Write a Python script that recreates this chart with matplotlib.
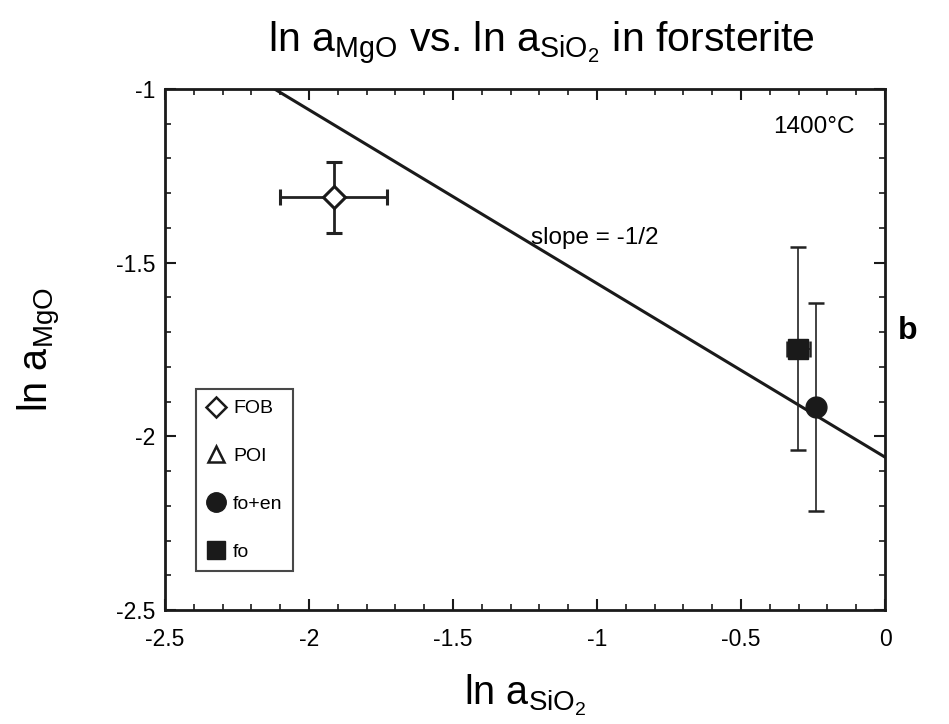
import matplotlib
matplotlib.use("Agg")
import matplotlib.pyplot as plt
from matplotlib.lines import Line2D
from matplotlib.ticker import MultipleLocator, FuncFormatter

plt.rcParams['font.family'] = ['Liberation Sans', 'DejaVu Sans']
plt.rcParams['mathtext.fontset'] = 'custom'
plt.rcParams['mathtext.rm'] = 'Liberation Sans'
plt.rcParams['mathtext.it'] = 'Liberation Sans'

# Measured activities at 1400 °C
fob_x, fob_y = [-1.915], [-1.312]
fob_xerr, fob_yerr = [0.185], [0.103]

foen_x, foen_y = [-0.240], [-1.916]
foen_xerr, foen_yerr = [0.0], [0.300]

fo_x, fo_y = [-0.301], [-1.748]
fo_xerr, fo_yerr = [0.04], [0.292]

# Reference line with slope -1/2
line_slope = -0.5
line_intercept = -2.06
line_x = [-2.12, 0.0]

fig = plt.figure(figsize=(9.49, 7.24), dpi=100)
ax = fig.add_axes([0.1739, 0.1575, 0.7587, 0.7196])

ax.plot(line_x, [line_slope * x + line_intercept for x in line_x],
        color='#1a1a1a', lw=2.2, zorder=2)

eb_kw = dict(ecolor='#222222', capsize=6, capthick=1.8, zorder=3)
ax.errorbar(fob_x, fob_y, xerr=fob_xerr, yerr=fob_yerr, fmt='D', ms=11,
            mfc='white', mec='#1a1a1a', mew=2.2, elinewidth=2, **eb_kw)
ax.errorbar(fo_x, fo_y, xerr=fo_xerr, yerr=fo_yerr, fmt='s', ms=14,
            mfc='#1a1a1a', mec='#1a1a1a', elinewidth=1.2, **eb_kw)
ax.errorbar(foen_x, foen_y, xerr=foen_xerr, yerr=foen_yerr, fmt='o', ms=15,
            mfc='#1a1a1a', mec='#1a1a1a', elinewidth=1.2, **eb_kw)

ax.set_xlim(-2.5, 0)
ax.set_ylim(-2.5, -1)
fmt = FuncFormatter(lambda v, p: '%g' % round(v, 2))
ax.xaxis.set_major_locator(MultipleLocator(0.5))
ax.xaxis.set_minor_locator(MultipleLocator(0.1))
ax.yaxis.set_major_locator(MultipleLocator(0.5))
ax.yaxis.set_minor_locator(MultipleLocator(0.1))
ax.xaxis.set_major_formatter(fmt)
ax.yaxis.set_major_formatter(fmt)
ax.tick_params(which='both', direction='in', top=True, right=True,
               color='#1a1a1a')
ax.tick_params(which='major', length=8, width=1.5, labelsize=16.5)
ax.tick_params(axis='x', which='major', pad=13)
ax.tick_params(axis='y', which='major', pad=7)
ax.tick_params(which='minor', length=4, width=1.2)
for s in ax.spines.values():
    s.set_linewidth(2)
    s.set_color('#1a1a1a')

ax.set_xlabel(r'ln a$_{\mathrm{SiO_2}}$', fontsize=28.5, labelpad=16)
ax.set_ylabel(r'ln a$_{\mathrm{MgO}}$', fontsize=28.5, labelpad=38)
fig.text(0.571, 0.94, r'ln a$_{\mathrm{MgO}}$ vs. ln a$_{\mathrm{SiO_2}}$ in forsterite',
         fontsize=29.5, ha='center', va='center')

ax.text(-0.105, -1.11, '1400°C', fontsize=17.5, ha='right', va='center')
ax.text(-1.23, -1.43, 'slope = -1/2', fontsize=17.5, ha='left', va='center')
fig.text(0.956, 0.543, 'b', fontsize=23, fontweight='bold', ha='center', va='center')

handles = [
    Line2D([], [], ls='none', marker='D', ms=10, mfc='white', mec='#1a1a1a', mew=1.8),
    Line2D([], [], ls='none', marker='^', ms=12, mfc='white', mec='#1a1a1a', mew=1.8),
    Line2D([], [], ls='none', marker='o', ms=14, mfc='#1a1a1a', mec='#1a1a1a'),
    Line2D([], [], ls='none', marker='s', ms=13, mfc='#1a1a1a', mec='#1a1a1a'),
]
leg = ax.legend(handles, ['FOB', 'POI', 'fo+en', 'fo'], loc='lower left',
                bbox_to_anchor=(0.043, 0.074), prop={'size': 14},
                frameon=True, fancybox=False, edgecolor='#1a1a1a', labelspacing=1.55,
                handletextpad=0.35, borderpad=0.55, handlelength=1.0,
                borderaxespad=0)
leg.get_frame().set_linewidth(1.5)

fig.savefig('out.png', dpi=100, facecolor='white')
